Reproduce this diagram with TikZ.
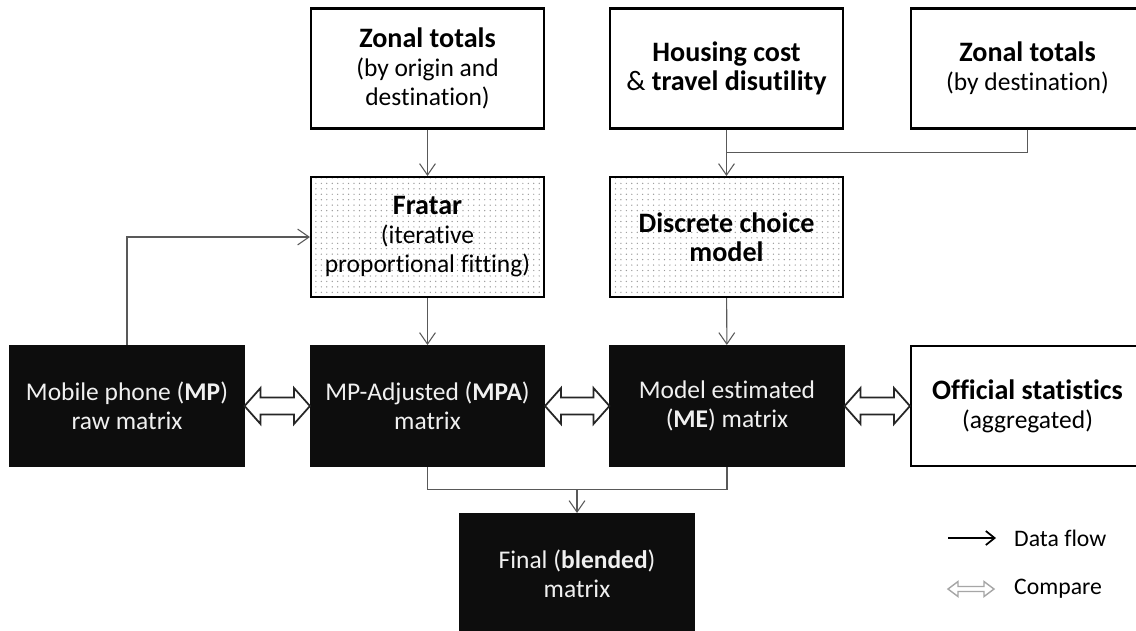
\documentclass[tikz,border=0pt]{standalone}
\usepackage{fontspec}
\setmainfont{Carlito}[RawFeature={-liga;-clig;-calt;-dlig}]
\usetikzlibrary{arrows.meta,calc,patterns.meta}

\definecolor{boxblack}{HTML}{0D0D0D}
\definecolor{linegray}{HTML}{595959}

% bold box titles are set a little larger than the rest
\newcommand{\ttl}[1]{{\fontsize{16}{16.5}\selectfont\textbf{#1}}}

\tikzset{
  databox/.style={draw=black, line width=1.2pt, fill=white, minimum width=4.66cm,
    minimum height=2.4cm, align=center, inner sep=2pt,
    font=\fontsize{14.5}{16.5}\selectfont},
  procbox/.style={databox, preaction={fill=white},
    pattern={Dots[distance=3.1pt, radius=0.4pt]}, pattern color=gray!80},
  matbox/.style={databox, draw=boxblack, fill=boxblack, text=white!94!black},
  flow/.style={draw=linegray, line width=0.6pt, -{Straight Barb[length=6.5pt,width=9pt]}},
  link/.style={draw=linegray, line width=0.6pt},
  cmp/.style={draw=black!85, line width=1pt, fill=white, line join=miter},
  cmplegend/.style={draw=gray!70, line width=0.8pt, fill=white, line join=miter},
}

% hollow two-headed arrow: style, from, to, head length, head half, shaft half
\newcommand{\cmparrow}[6][cmp]{%
  \draw[#1] (#2) -- ($(#2)+(#4,-#5)$) -- ($(#2)+(#4,-#6)$) -- ($(#3)+(-#4,-#6)$)
    -- ($(#3)+(-#4,-#5)$) -- (#3) -- ($(#3)+(-#4,#5)$) -- ($(#3)+(-#4,#6)$)
    -- ($(#2)+(#4,#6)$) -- ($(#2)+(#4,#5)$) -- cycle;}

\begin{document}
\begin{tikzpicture}[x=0.02cm, y=-0.02cm]
\clip (0,0) rectangle (1136,630);
\fill[white] (0,0) rectangle (1136,630);

% inputs
\node[databox] (zod) at (427.5,68.5) {\ttl{Zonal totals}\\(by origin and\\destination)};
\node[databox] (hc) at (726.5,68.5) {\ttl{Housing cost}\\{\fontsize{16}{16.5}\selectfont\& \textbf{travel disutility}}};
\node[databox] (zd) at (1027.5,68.5) {\ttl{Zonal totals}\\(by destination)};

% processes
\node[procbox] (fratar) at (427.5,237) {\ttl{Fratar}\\(iterative\\proportional fitting)};
\node[procbox] (dcm) at (726.5,237) {\ttl{Discrete choice}\\\ttl{model}};

% matrices
\node[matbox] (mp) at (127,406) {Mobile phone (\textbf{MP})\\raw matrix};
\node[matbox] (mpa) at (427.5,406) {MP-Adjusted (\textbf{MPA})\\matrix};
\node[matbox] (me) at (727,406) {Model estimated\\(\textbf{ME}) matrix};
\node[databox] (off) at (1027.5,406) {\ttl{Official statistics}\\(aggregated)};
\node[matbox] (final) at (577,574) {Final (\textbf{blended})\\matrix};

% data flow
\coordinate (jh) at ($(hc.south)!0.5!(dcm.north)$);
\coordinate (jn) at ($(final.north)+(0,-23)$);
\draw[flow] (zod) -- (fratar);
\draw[flow] (hc) -- (dcm);
\draw[link] (zd.south) |- (jh);
\draw[flow] (mp.north) |- (fratar.west);
\draw[flow] (fratar) -- (mpa);
\draw[flow] (dcm) -- (me);
\draw[link] (mpa.south) |- (jn);
\draw[link] (me.south) |- (jn);
\draw[flow] (jn) -- (final.north);

% comparisons
\cmparrow{mp.east}{mpa.west}{16}{18}{8.5}
\cmparrow{mpa.east}{me.west}{16}{18}{8.5}
\cmparrow{me.east}{off.west}{16}{18}{8.5}

% legend
\coordinate (flowA) at (948,538);
\coordinate (flowB) at (996,538);
\coordinate (cmpA) at (948,589);
\coordinate (cmpB) at (994,589);
\draw[black, line width=1pt, -{Straight Barb[length=5pt,width=8pt]}] (flowA) -- (flowB);
\cmparrow[cmplegend]{cmpA}{cmpB}{10}{7.5}{2.5}
\node[anchor=west, font=\fontsize{13.5}{16}\selectfont] (lgflow) at (1008,538) {Data flow};
\node[anchor=west, font=\fontsize{13.5}{16}\selectfont] (lgcmp) at (1008,589) {Compare};
\end{tikzpicture}
\end{document}
